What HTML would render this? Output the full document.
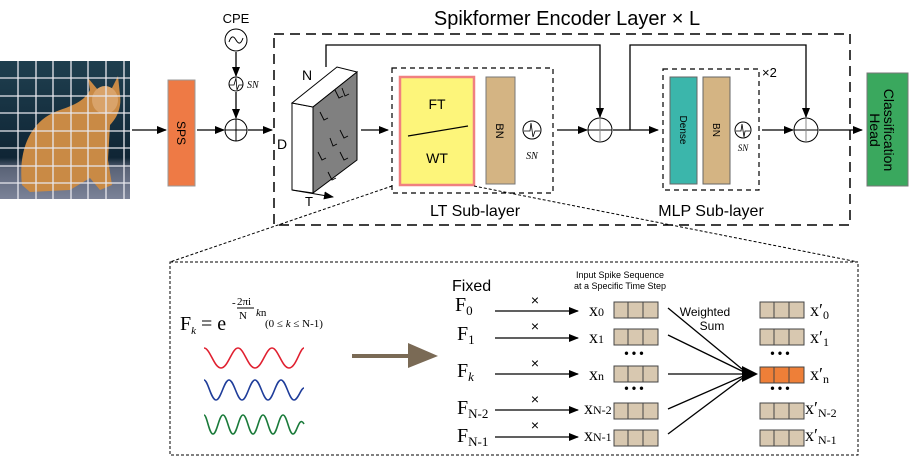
<!DOCTYPE html>
<html><head><meta charset="utf-8"><style>
body{margin:0;background:#fff}
svg{display:block;font-family:"Liberation Sans",sans-serif}
.s{font-family:"Liberation Serif",serif}
</style></head><body>
<svg width="914" height="457" viewBox="0 0 914 457" xmlns="http://www.w3.org/2000/svg">
<defs>
<marker id="a" markerWidth="10" markerHeight="8" refX="9" refY="4" orient="auto" markerUnits="userSpaceOnUse"><path d="M0,0 L10,4 L0,8 z" fill="#000"/></marker>
<linearGradient id="bg" x1="0" y1="0" x2="0" y2="1"><stop offset="0" stop-color="#1f3f4f"/><stop offset="0.7" stop-color="#0f2535"/><stop offset="0.78" stop-color="#5b6478"/><stop offset="1" stop-color="#7b8298"/></linearGradient>
</defs>
<rect x="0" y="61" width="130" height="138" fill="url(#bg)"/>
<path d="M22,185 C18,150 30,120 60,110 C75,105 85,100 90,90 L88,78 L98,90 L112,88 L118,76 L120,95 C122,110 115,120 110,125 L108,160 L112,185 L100,190 L90,178 L70,190 L30,192 Z" fill="#c98a45"/>
<ellipse cx="105" cy="100" rx="13" ry="14" fill="#d9a36a"/>
<g stroke="#e8e8ee" stroke-width="1.3">
<line x1="18" y1="61" x2="18" y2="199"/><line x1="36" y1="61" x2="36" y2="199"/><line x1="53" y1="61" x2="53" y2="199"/><line x1="71" y1="61" x2="71" y2="199"/><line x1="88" y1="61" x2="88" y2="199"/><line x1="106" y1="61" x2="106" y2="199"/><line x1="124" y1="61" x2="124" y2="199"/>
<line x1="0" y1="78" x2="130" y2="78"/><line x1="0" y1="96" x2="130" y2="96"/><line x1="0" y1="113" x2="130" y2="113"/><line x1="0" y1="131" x2="130" y2="131"/><line x1="0" y1="148" x2="130" y2="148"/><line x1="0" y1="166" x2="130" y2="166"/><line x1="0" y1="183" x2="130" y2="183"/>
</g>
<g stroke="#000" stroke-width="1.3" fill="none">
<line x1="132" y1="130" x2="166" y2="130" marker-end="url(#a)"/>
<line x1="197" y1="130" x2="224" y2="130" marker-end="url(#a)"/>
<line x1="248" y1="130" x2="272" y2="130" marker-end="url(#a)"/>
<line x1="236" y1="52" x2="236" y2="76" marker-end="url(#a)"/>
<line x1="236" y1="92" x2="236" y2="118" marker-end="url(#a)"/>
</g>
<rect x="168" y="80" width="27" height="106" fill="#ee7a45" stroke="#999"/>
<text transform="translate(177,133) rotate(90)" text-anchor="middle" font-size="12">SPS</text>
<text x="236" y="23" text-anchor="middle" font-size="13">CPE</text>
<circle cx="236" cy="40" r="11" fill="#fff" stroke="#000"/>
<path d="M229,42 Q232,33 236,40 Q240,47 243,38" fill="none" stroke="#000"/>
<circle cx="236" cy="84" r="7" fill="#fff" stroke="#000"/>
<path d="M229,85 L234,85 L236,78 L237,90 L239,85 L243,85" fill="none" stroke="#000" stroke-width="0.8"/>
<text x="247" y="88" font-size="10" font-style="italic" class="s">SN</text>
<g><circle cx="236" cy="130" r="11" fill="#fff" stroke="#000"/><line x1="225" y1="130" x2="247" y2="130" stroke="#000"/><line x1="236" y1="119" x2="236" y2="141" stroke="#000"/></g>
<text x="567" y="25" text-anchor="middle" font-size="20">Spikformer Encoder Layer × L</text>
<rect x="274" y="34" width="576" height="191" fill="none" stroke="#000" stroke-width="1.5" stroke-dasharray="10,6"/>
<polygon points="292,103 313,107 313,193 292,190" fill="#fff" stroke="#000"/>
<polygon points="292,103 337,67 357,72 313,107" fill="#fff" stroke="#000"/>
<polygon points="313,107 357,72 357,160 313,193" fill="#808080" stroke="#000"/>
<g stroke="#000" stroke-width="0.9" fill="none">
<path d="M335,90 l4,8 l4,-2"/><path d="M342,88 l3,8 l4,-2"/><path d="M320,112 l4,8 l4,-2"/><path d="M340,130 l4,8 l4,-2"/><path d="M330,138 l3,8 l4,-2"/><path d="M318,152 l4,8 l4,-2"/><path d="M340,152 l4,8 l4,-2"/><path d="M328,172 l4,8 l4,-2"/>
</g>
<line x1="292" y1="190" x2="333" y2="197" stroke="#000" marker-end="url(#a)"/>
<text x="302" y="80" font-size="14">N</text>
<text x="277" y="149" font-size="14">D</text>
<text x="305" y="206" font-size="13">T</text>
<g stroke="#000" stroke-width="1.3" fill="none">
<polyline points="326,67 326,45 600,45 600,117" marker-end="url(#a)"/>
<line x1="361" y1="130" x2="388" y2="130" marker-end="url(#a)"/>
<line x1="557" y1="130" x2="587" y2="130" marker-end="url(#a)"/>
<line x1="613" y1="130" x2="658" y2="130" marker-end="url(#a)"/>
<polyline points="630,130 630,45 806,45 806,117" marker-end="url(#a)"/>
<line x1="762" y1="130" x2="793" y2="130" marker-end="url(#a)"/>
<line x1="819" y1="130" x2="862" y2="130" marker-end="url(#a)"/>
</g>
<g><circle cx="600" cy="130" r="12" fill="#fff" stroke="#000"/><line x1="588" y1="130" x2="612" y2="130" stroke="#000"/><line x1="600" y1="118" x2="600" y2="142" stroke="#888"/></g>
<g><circle cx="806" cy="130" r="12" fill="#fff" stroke="#000"/><line x1="794" y1="130" x2="818" y2="130" stroke="#000"/><line x1="806" y1="118" x2="806" y2="142" stroke="#888"/></g>
<rect x="392" y="68" width="161" height="125" fill="none" stroke="#000" stroke-width="1.2" stroke-dasharray="5,4"/>
<rect x="400" y="77" width="74" height="108" fill="#fdf57a" stroke="#f08080" stroke-width="2.5"/>
<line x1="408" y1="136" x2="468" y2="126" stroke="#000" stroke-width="1.2"/>
<text x="437" y="109" text-anchor="middle" font-size="14">FT</text>
<text x="437" y="163" text-anchor="middle" font-size="14">WT</text>
<rect x="486" y="77" width="29" height="107" fill="#d4b483" stroke="#777"/>
<text transform="translate(496,131) rotate(90)" text-anchor="middle" font-size="11">BN</text>
<circle cx="532" cy="130" r="9" fill="#fff" stroke="#000"/>
<path d="M524,131 L530,131 L531,123 L533,137 L535,131 L540,131" fill="none" stroke="#000" stroke-width="0.8"/>
<text x="532" y="159" text-anchor="middle" font-size="10" font-style="italic" class="s">SN</text>
<text x="475" y="216" text-anchor="middle" font-size="16">LT Sub-layer</text>
<rect x="663" y="69" width="96" height="121" fill="none" stroke="#000" stroke-width="1.2" stroke-dasharray="5,4"/>
<text x="762" y="77" font-size="13">×2</text>
<rect x="670" y="77" width="27" height="107" fill="#3bb6ab" stroke="#666"/>
<text transform="translate(680,130) rotate(90)" text-anchor="middle" font-size="10">Dense</text>
<rect x="703" y="77" width="27" height="107" fill="#d4b483" stroke="#666"/>
<text transform="translate(713,130) rotate(90)" text-anchor="middle" font-size="10">BN</text>
<circle cx="743" cy="130" r="8" fill="#fff" stroke="#000"/>
<path d="M736,131 L741,131 L742,124 L744,137 L745,131 L750,131" fill="none" stroke="#000" stroke-width="0.8"/>
<text x="743" y="151" text-anchor="middle" font-size="9" font-style="italic" class="s">SN</text>
<text x="711" y="216" text-anchor="middle" font-size="16">MLP Sub-layer</text>
<rect x="867" y="73" width="41" height="113" fill="#3aa85e" stroke="#777"/>
<text transform="translate(884,130) rotate(90)" text-anchor="middle" font-size="14">Classification</text>
<text transform="translate(870,130) rotate(90)" text-anchor="middle" font-size="14">Head</text>
<g stroke="#000" stroke-width="1" stroke-dasharray="3,2" fill="none">
<line x1="392" y1="186" x2="170" y2="262"/>
<line x1="474" y1="186" x2="858" y2="262"/>
<rect x="170" y="262" width="688" height="193"/>
</g>
<text x="180" y="330" class="s" font-size="20">F<tspan font-size="11" dy="4" font-style="italic">k</tspan><tspan dy="-4"> = e</tspan></text>
<text x="232" y="306" class="s" font-size="11">-</text>
<text x="237" y="305" class="s" font-size="11">2πi</text>
<line x1="237" y1="308" x2="254" y2="308" stroke="#000"/>
<text x="239" y="319" class="s" font-size="11">N</text>
<text x="256" y="316" class="s" font-size="11"><tspan font-style="italic">k</tspan>n</text>
<text x="265" y="327" class="s" font-size="11">(0 ≤ <tspan font-style="italic">k</tspan> ≤ N-1)</text>
<path d="M204,348 C210,348 214,368 221,368 C228,368 232,348 238,348 C244,348 248,368 255,368 C262,368 266,348 272,348 C278,348 282,368 289,368 C296,368 300,348 304,348" fill="none" stroke="#e02030" stroke-width="1.6"/>
<path d="M204,380 C208,380 211,400 216,400 C221,400 224,380 229,380 C234,380 237,400 242,400 C247,400 250,380 255,380 C260,380 263,400 268,400 C273,400 276,380 281,380 C286,380 289,400 294,400 C298,400 301,388 304,388" fill="none" stroke="#1f3d9a" stroke-width="1.6"/>
<path d="M204,415 C207,415 209,434 213,434 C217,434 219,415 223,415 C227,415 229,434 233,434 C237,434 239,415 243,415 C247,415 249,434 253,434 C257,434 259,415 263,415 C267,415 269,434 273,434 C277,434 279,415 283,415 C287,415 289,434 293,434 C297,434 299,415 304,424" fill="none" stroke="#1a7a3a" stroke-width="1.6"/>
<line x1="352" y1="356" x2="420" y2="356" stroke="#7a6a55" stroke-width="4"/>
<polygon points="408,343 438,356 408,368" fill="#7a6a55"/>
<text x="452" y="291" font-size="16">Fixed</text>
<text x="620" y="278" text-anchor="middle" font-size="9">Input Spike Sequence</text>
<text x="620" y="289" text-anchor="middle" font-size="9">at a Specific Time Step</text>
<text x="705" y="316" text-anchor="middle" font-size="12">Weighted</text>
<text x="712" y="330" text-anchor="middle" font-size="12">Sum</text>
<g class="s" font-size="20">
<text x="455" y="311">F<tspan font-size="13" dy="4">0</tspan></text>
<text x="457" y="340">F<tspan font-size="13" dy="4">1</tspan></text>
<text x="457" y="377">F<tspan font-size="13" dy="4" font-style="italic">k</tspan></text>
<text x="457" y="414">F<tspan font-size="13" dy="4">N-2</tspan></text>
<text x="457" y="442">F<tspan font-size="13" dy="4">N-1</tspan></text>
</g>
<g stroke="#000" stroke-width="1.3">
<line x1="495" y1="311" x2="578" y2="311" marker-end="url(#a)"/>
<line x1="495" y1="338" x2="578" y2="338" marker-end="url(#a)"/>
<line x1="495" y1="374" x2="578" y2="374" marker-end="url(#a)"/>
<line x1="495" y1="410" x2="578" y2="410" marker-end="url(#a)"/>
<line x1="495" y1="437" x2="578" y2="437" marker-end="url(#a)"/>
</g>
<g font-size="14" text-anchor="middle">
<text x="535" y="305">×</text><text x="535" y="331">×</text><text x="535" y="368">×</text><text x="535" y="404">×</text><text x="535" y="430">×</text>
</g>
<g class="s" font-size="18">
<text x="589" y="316">x<tspan font-size="12">0</tspan></text>
<text x="589" y="343">x<tspan font-size="12">1</tspan></text>
<text x="589" y="380">x<tspan font-size="12">n</tspan></text>
<text x="584" y="414">x<tspan font-size="12">N-2</tspan></text>
<text x="584" y="441">x<tspan font-size="12">N-1</tspan></text>
</g>
<g fill="#d8c8b0" stroke="#444">
<rect x="614" y="302" width="14" height="16"/><rect x="628" y="302" width="15" height="16"/><rect x="643" y="302" width="15" height="16"/>
<rect x="614" y="329" width="14" height="16"/><rect x="628" y="329" width="15" height="16"/><rect x="643" y="329" width="15" height="16"/>
<rect x="614" y="366" width="14" height="16"/><rect x="628" y="366" width="15" height="16"/><rect x="643" y="366" width="15" height="16"/>
<rect x="614" y="403" width="14" height="16"/><rect x="628" y="403" width="15" height="16"/><rect x="643" y="403" width="15" height="16"/>
<rect x="614" y="430" width="14" height="16"/><rect x="628" y="430" width="15" height="16"/><rect x="643" y="430" width="15" height="16"/>
<rect x="760" y="302" width="14" height="16"/><rect x="774" y="302" width="15" height="16"/><rect x="789" y="302" width="15" height="16"/>
<rect x="760" y="329" width="14" height="16"/><rect x="774" y="329" width="15" height="16"/><rect x="789" y="329" width="15" height="16"/>
<rect x="760" y="403" width="14" height="16"/><rect x="774" y="403" width="15" height="16"/><rect x="789" y="403" width="15" height="16"/>
<rect x="760" y="430" width="14" height="16"/><rect x="774" y="430" width="15" height="16"/><rect x="789" y="430" width="15" height="16"/>
</g>
<g fill="#ee7f38" stroke="#444"><rect x="760" y="367" width="14" height="16"/><rect x="774" y="367" width="15" height="16"/><rect x="789" y="367" width="15" height="16"/></g>
<g font-size="12" font-weight="bold" text-anchor="middle"><text x="634" y="357">• • •</text><text x="634" y="392">• • •</text><text x="780" y="357">• • •</text><text x="780" y="392">• • •</text></g>
<g stroke="#000" stroke-width="1.3">
<line x1="668" y1="308" x2="748" y2="374"/>
<line x1="668" y1="335" x2="748" y2="374"/>
<line x1="668" y1="374" x2="748" y2="374"/>
<line x1="668" y1="409" x2="748" y2="374"/>
<line x1="668" y1="434" x2="748" y2="374"/>
</g>
<polygon points="742,366 758,374 742,382" fill="#000"/>
<g class="s" font-size="18">
<text x="810" y="316">x′<tspan font-size="12" dy="3">0</tspan></text>
<text x="810" y="343">x′<tspan font-size="12" dy="3">1</tspan></text>
<text x="810" y="380">x′<tspan font-size="12" dy="3">n</tspan></text>
<text x="805" y="414">x′<tspan font-size="12" dy="3">N-2</tspan></text>
<text x="805" y="441">x′<tspan font-size="12" dy="3">N-1</tspan></text>
</g>
</svg>
</body></html>
